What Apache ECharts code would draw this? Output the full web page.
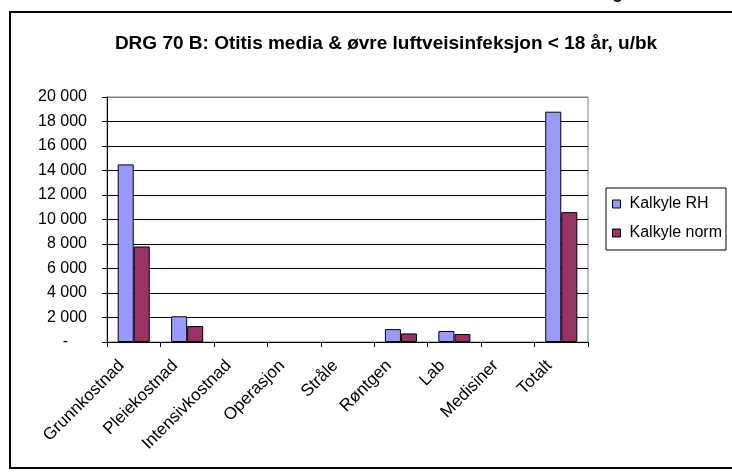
<!DOCTYPE html>
<html>
<head>
<meta charset="utf-8">
<script src="https://cdn.jsdelivr.net/npm/echarts@6/dist/echarts.min.js"></script>
<style>
  html, body { margin: 0; padding: 0; background: #fff; }
  #chart { width: 732px; height: 474px; }
</style>
</head>
<body>
<div id="chart"></div>
<script>
// Cost components per DRG 70 B
const categories = ['Grunnkostnad', 'Pleiekostnad', 'Intensivkostnad', 'Operasjon', 'Stråle', 'Røntgen', 'Lab', 'Medisiner', 'Totalt'];
const kalkyleRH = [14500, 2100, 0, 0, 0, 1050, 900, 0, 18800];
const kalkyleNorm = [7800, 1300, 0, 0, 0, 700, 650, 0, 10600];
const yTicks = [0, 2000, 4000, 6000, 8000, 10000, 12000, 14000, 16000, 18000, 20000];

const FONT = '"Liberation Sans", Arial, sans-serif';

function fmt(v) {
  if (v === 0) return '{d|-}';
  return String(v).replace(/\B(?=(\d{3})+(?!\d))/g, ' ');
}

// empty cost items get no outline so nothing shows on the baseline
function barData(values) {
  return values.map(v => (v === 0 ? { value: v, itemStyle: { borderWidth: 0 } } : v));
}

const chart = echarts.init(document.getElementById('chart'), null, { renderer: 'canvas' });

chart.setOption({
  backgroundColor: '#ffffff',
  animation: false,
  textStyle: { fontFamily: FONT },
  title: {
    text: 'DRG 70 B: Otitis media & øvre luftveisinfeksjon < 18 år, u/bk',
    left: 381,
    textAlign: 'center',
    top: 29,
    textStyle: { fontFamily: FONT, fontSize: 19, fontWeight: 'bold', color: '#000' }
  },
  graphic: [
    {
      type: 'rect',
      shape: { x: 10, y: 12, width: 740, height: 456 },
      style: { fill: null, stroke: '#000', lineWidth: 2 },
      silent: true
    },
    {
      type: 'text',
      x: 612,
      y: 2,
      style: {
        text: 'g',
        font: 'bold 18px "Liberation Sans", Arial, sans-serif',
        fill: '#000',
        verticalAlign: 'bottom'
      },
      silent: true
    }
  ],
  legend: {
    orient: 'vertical',
    left: 606,
    top: 188,
    padding: [8, 4, 9, 6],
    itemGap: 13,
    itemWidth: 8,
    itemHeight: 8,
    icon: 'rect',
    borderColor: '#000',
    borderWidth: 1,
    itemStyle: { borderColor: '#000', borderWidth: 1 },
    textStyle: { fontFamily: FONT, fontSize: 16, color: '#000', padding: [0, 0, 0, 4] },
    data: ['Kalkyle RH', 'Kalkyle norm']
  },
  grid: {
    left: 107,
    top: 97,
    right: 144,
    bottom: 132,
    show: true,
    borderColor: '#808080',
    borderWidth: 1,
    backgroundColor: 'transparent'
  },
  xAxis: {
    type: 'category',
    data: categories,
    boundaryGap: true,
    axisLine: { lineStyle: { color: '#000', width: 1 } },
    axisTick: { show: true, length: 5, alignWithLabel: false, lineStyle: { color: '#000' } },
    axisLabel: {
      rotate: 45,
      margin: 9,
      interval: 0,
      color: '#000',
      fontFamily: FONT,
      fontSize: 17,
      padding: [0, 17, 0, 0]
    }
  },
  yAxis: {
    type: 'value',
    min: 0,
    max: 20000,
    interval: 2000,
    axisLine: { show: true, lineStyle: { color: '#000', width: 1 } },
    axisTick: { show: true, length: 5, lineStyle: { color: '#000' } },
    splitLine: {
      show: true,
      lineStyle: {
        color: yTicks.map((t, i) => (i === yTicks.length - 1 ? '#808080' : '#000')),
        width: 1
      }
    },
    axisLabel: {
      margin: 20,
      color: '#000',
      fontFamily: FONT,
      fontSize: 16,
      formatter: fmt,
      rich: { d: { padding: [0, 19, 0, 0], fontSize: 16, fontFamily: FONT, color: '#000' } }
    }
  },
  series: [
    {
      name: 'Kalkyle RH',
      type: 'bar',
      data: barData(kalkyleRH),
      barGap: '0%',
      barCategoryGap: '40%',
      itemStyle: { color: '#9999FF', borderColor: '#000', borderWidth: 1 }
    },
    {
      name: 'Kalkyle norm',
      type: 'bar',
      data: barData(kalkyleNorm),
      barGap: '0%',
      barCategoryGap: '40%',
      itemStyle: { color: '#993366', borderColor: '#000', borderWidth: 1 }
    }
  ]
});
</script>
</body>
</html>
